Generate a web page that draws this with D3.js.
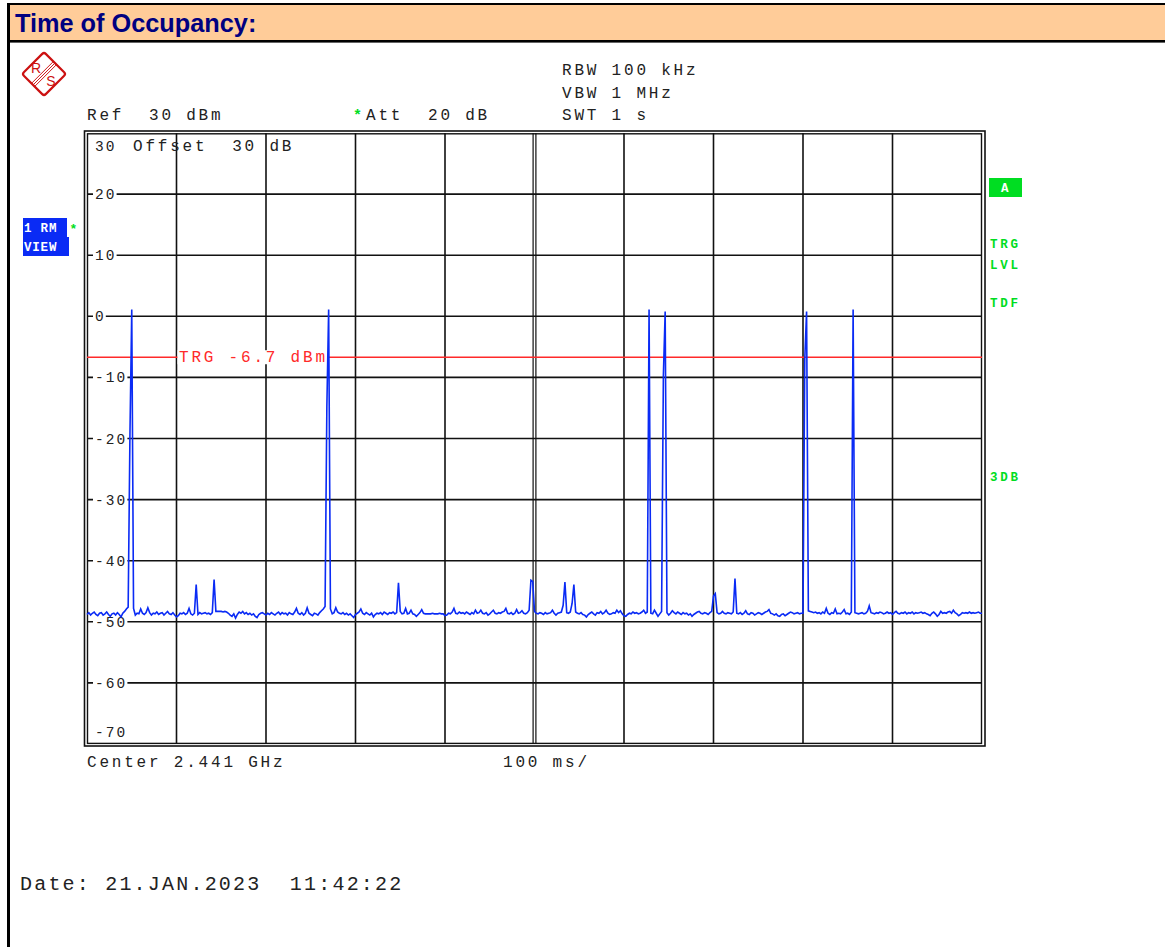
<!DOCTYPE html>
<html>
<head>
<meta charset="utf-8">
<script src="https://cdn.jsdelivr.net/npm/d3@7"></script>
<style>
  html, body { margin: 0; padding: 0; background: #fff; }
  svg { display: block; }
  text { white-space: pre; }
</style>
</head>
<body>
<svg id="chart" width="1165" height="947"></svg>
<script>
// ---------------- DATA ----------------
const title = "Time of Occupancy:";
const sweepTimeMs = 1000;           // SWT 1 s, 100 ms/div
const timeDivisions = [0, 100, 200, 300, 400, 500, 600, 700, 800, 900, 1000];
const levelTicks = [30, 20, 10, 0, -10, -20, -30, -40, -50, -60, -70];
const levelLabels = ["30", "20", "10", "0", "-10", "-20", "-30", "-40", "-50", "-60", "-70"];
const triggerLevel = -6.7;
const headerLines = ["RBW 100 kHz", "VBW 1 MHz", "SWT 1 s"];
const refText = "Ref  30 dBm";
const attText = "Att  20 dB";
const offsetText = "Offset  30 dB";
const footerLeft = "Center 2.441 GHz";
const footerMid = "100 ms/";
const dateText = "Date: 21.JAN.2023  11:42:22";
const traceInfo = ["1 RM", "VIEW"];
const rightLabels = ["TRG", "LVL", "TDF", "3DB"];

// trace: 501 sweep points (2 ms each), level in dBm
const trace = [
  -48.8,-48.5,-48.9,-48.6,-48.4,-48.8,-49.0,-48.6,-48.5,-48.9,-48.7,-48.4,-48.8,-49.1,-48.7,-48.6,-48.9,-48.5,-48.8,-49.2,
  -48.6,-48.3,-47.9,-47.6,-19.2,1.1,-47.8,-48.9,-48.6,-48.7,-47.9,-48.6,-48.8,-48.5,-47.7,-48.5,-48.9,-48.6,-48.7,-48.4,
  -48.8,-48.6,-48.5,-48.9,-48.6,-48.3,-48.7,-48.8,-48.5,-48.9,-49.2,-49.0,-48.6,-48.7,-48.5,-48.8,-48.6,-47.8,-48.7,-48.9,
  -48.6,-43.9,-48.8,-48.5,-48.7,-48.6,-48.5,-48.7,-48.6,-48.8,-48.5,-43.1,-48.3,-48.3,-48.3,-48.3,-48.4,-48.3,-48.4,-48.6,
  -48.9,-49.1,-48.7,-49.4,-48.8,-48.4,-48.6,-48.3,-48.7,-48.5,-48.8,-48.6,-48.9,-48.7,-49.1,-49.3,-48.8,-48.6,-48.5,-48.7,
  -48.9,-48.6,-48.8,-48.5,-48.7,-48.9,-48.6,-48.4,-48.8,-48.5,-48.7,-48.6,-48.9,-48.5,-48.7,-48.8,-48.4,-47.8,-48.6,-48.8,
  -48.5,-48.9,-48.6,-47.7,-48.6,-48.8,-49.0,-48.6,-48.7,-48.9,-48.5,-48.2,-47.9,-47.5,-14.8,1.1,-47.9,-48.7,-48.5,-47.7,
  -48.4,-48.6,-48.7,-48.5,-48.8,-48.6,-48.9,-48.7,-49.0,-49.3,-48.8,-48.6,-48.4,-47.9,-48.6,-48.8,-48.5,-48.7,-48.9,-48.6,
  -49.2,-48.8,-48.6,-48.7,-48.5,-48.8,-48.4,-48.6,-48.8,-48.5,-48.6,-48.4,-48.7,-48.5,-43.6,-48.3,-48.7,-48.6,-47.8,-48.7,
  -48.6,-48.1,-48.7,-48.8,-49.1,-48.8,-48.5,-48.0,-48.6,-48.7,-48.7,-48.7,-48.7,-48.6,-48.7,-48.7,-48.7,-48.6,-48.7,-48.7,
  -49.0,-48.9,-48.6,-48.7,-48.4,-47.8,-48.6,-48.7,-48.4,-48.6,-48.5,-48.7,-48.4,-48.6,-48.8,-48.5,-48.7,-48.1,-48.6,-48.5,
  -48.1,-48.6,-48.7,-48.5,-48.9,-48.7,-48.4,-48.1,-48.6,-48.7,-48.5,-48.6,-48.4,-48.3,-47.8,-48.6,-48.7,-48.5,-48.8,-48.6,
  -48.0,-48.6,-48.5,-48.2,-48.6,-48.7,-48.5,-48.1,-43.2,-43.4,-48.3,-48.6,-48.7,-48.5,-48.6,-48.8,-48.5,-48.7,-48.6,-48.5,
  -48.1,-48.6,-48.9,-48.6,-48.5,-48.4,-47.3,-43.5,-48.5,-48.6,-48.4,-47.0,-43.9,-48.4,-48.6,-48.7,-48.5,-48.8,-48.9,-49.2,
  -48.8,-48.6,-48.4,-48.7,-48.9,-48.5,-48.6,-48.3,-48.7,-48.5,-48.1,-48.6,-48.8,-48.7,-48.5,-48.6,-48.1,-48.5,-48.2,-48.7,
  -49.0,-49.1,-48.8,-48.6,-48.7,-48.4,-48.6,-48.5,-48.7,-48.6,-48.4,-48.1,-48.6,-48.4,1.1,-48.6,-48.7,-48.1,-48.6,-49.1,
  -48.7,-48.3,-9.7,0.8,-48.5,-48.9,-48.6,-48.2,-48.5,-48.7,-48.4,-48.6,-48.8,-48.5,-48.7,-48.6,-48.9,-48.7,-49.1,-48.8,
  -48.6,-48.4,-48.3,-48.6,-48.7,-48.5,-48.6,-48.8,-48.5,-48.3,-45.8,-45.4,-48.5,-48.7,-48.6,-48.3,-48.6,-48.7,-48.5,-48.6,
  -48.7,-48.4,-42.9,-48.6,-48.7,-48.5,-48.8,-48.6,-48.2,-48.7,-48.8,-48.5,-48.6,-48.9,-48.7,-48.5,-48.6,-48.8,-48.6,-48.4,
  -48.3,-48.0,-48.6,-48.7,-48.9,-48.7,-49.0,-49.1,-48.8,-48.7,-49.0,-48.8,-48.6,-48.4,-48.5,-48.7,-48.6,-48.5,-48.7,-48.6,
  -48.6,-7.0,0.8,-48.2,-48.3,-48.4,-48.5,-48.4,-48.6,-48.5,-48.7,-48.4,-48.6,-47.8,-48.6,-48.8,-48.5,-48.6,-47.9,-48.7,
  -48.6,-48.7,-48.4,-48.0,-48.7,-48.6,-48.8,-48.4,1.1,-48.5,-48.6,-48.7,-48.6,-48.5,-48.7,-48.6,-48.3,-47.4,-48.5,-48.6,
  -48.7,-48.5,-48.6,-48.4,-48.5,-48.7,-48.6,-48.4,-48.6,-48.5,-48.8,-48.5,-48.3,-48.6,-48.7,-48.5,-48.6,-48.4,-48.7,-48.5,
  -48.6,-48.4,-48.7,-48.5,-48.6,-48.5,-48.4,-48.6,-48.5,-48.7,-48.8,-49.0,-48.6,-48.4,-48.7,-49.1,-48.8,-48.3,-48.6,-48.5,
  -48.6,-48.4,-48.3,-48.6,-48.1,-48.5,-48.7,-49.0,-48.8,-48.5,-48.6,-48.5,-48.6,-48.4,-48.6,-48.5,-48.6,-48.5,-48.4,-48.6,
  -48.6
];

// ---------------- DRAWING ----------------
const svg = d3.select("#chart");
const MONO = "Liberation Mono, DejaVu Sans Mono, monospace";
const GREEN = "#00dd22";
const BLUE = "#0a2bf5";
const RED = "#cc1111";

svg.append("rect").attr("x", 0).attr("y", 0).attr("width", 1165).attr("height", 947).attr("fill", "#fff");

// header band
svg.append("rect").attr("x", 8).attr("y", 4).attr("width", 1157).attr("height", 37).attr("fill", "#ffcc99");
svg.append("rect").attr("x", 7).attr("y", 3).attr("width", 1158).attr("height", 2).attr("fill", "#000");
svg.append("rect").attr("x", 7).attr("y", 40).attr("width", 1158).attr("height", 2.6).attr("fill", "#000");
svg.append("rect").attr("x", 7).attr("y", 3).attr("width", 3).attr("height", 944).attr("fill", "#000");
svg.append("text")
  .attr("x", 15).attr("y", 32)
  .attr("font-family", "Liberation Sans, Arial, sans-serif")
  .attr("font-weight", "bold").attr("font-size", 25.3)
  .attr("fill", "#000080")
  .text(title);

// R&S logo
const logo = svg.append("g").attr("transform", "translate(44,74)");
const lg = logo.append("g").attr("transform", "rotate(45)");
lg.append("rect").attr("x", -15.5).attr("y", -15.5).attr("width", 31).attr("height", 31)
  .attr("rx", 2.5).attr("fill", "none").attr("stroke", RED).attr("stroke-width", 2.2);
[-2.2, 0, 2.2].forEach(d => {
  lg.append("line").attr("x1", d).attr("x2", d).attr("y1", -15.5).attr("y2", 15.5)
    .attr("stroke", RED).attr("stroke-width", 0.9);
});
logo.append("text").attr("x", -8).attr("y", -1).attr("text-anchor", "middle")
  .attr("font-family", "Liberation Sans, Arial, sans-serif").attr("font-size", 14).attr("fill", RED).text("R");
logo.append("text").attr("x", 7).attr("y", 12).attr("text-anchor", "middle")
  .attr("font-family", "Liberation Sans, Arial, sans-serif").attr("font-size", 14).attr("fill", RED).text("S");

// scales
const x = d3.scaleLinear().domain([0, sweepTimeMs]).range([87, 982]);
const y = d3.scaleLinear().domain([-70, 30]).range([744, 133]);

function monoText(g, tx, ty, str, size, spacing, fill, weight) {
  return g.append("text").attr("x", tx).attr("y", ty)
    .attr("xml:space", "preserve")
    .attr("font-family", MONO).attr("font-size", size)
    .attr("font-weight", weight || "normal")
    .style("letter-spacing", spacing + "px")
    .style("white-space", "pre")
    .attr("fill", fill || "#222").text(str);
}

// top annotations
headerLines.forEach((t, i) => monoText(svg, 562, 75 + i * 22.5, t, 16, 2.8, "#222"));
monoText(svg, 87, 120, refText, 16, 2.8, "#222");
monoText(svg, 353, 120, "*", 15, 0, GREEN, "bold");
monoText(svg, 366, 120, attText, 16, 2.8, "#222");

// grid
const grid = svg.append("g");
grid.append("rect").attr("x", 84.5).attr("y", 131).attr("width", 900.5).attr("height", 615)
  .attr("fill", "none").attr("stroke", "#111").attr("stroke-width", 1.6);
grid.append("rect").attr("x", 87.5).attr("y", 133.8).attr("width", 894).attr("height", 609.6)
  .attr("fill", "none").attr("stroke", "#111").attr("stroke-width", 1.4);

timeDivisions.slice(1, -1).forEach(t => {
  if (t === sweepTimeMs / 2) {
    [-1.4, 1.4].forEach(o => grid.append("line")
      .attr("x1", x(t) + o).attr("x2", x(t) + o).attr("y1", 133).attr("y2", 744)
      .attr("stroke", "#111").attr("stroke-width", 1.2));
  } else {
    grid.append("line").attr("x1", x(t)).attr("x2", x(t)).attr("y1", 133).attr("y2", 744)
      .attr("stroke", "#111").attr("stroke-width", 1.6);
  }
});
levelTicks.slice(1, -1).forEach(v => {
  grid.append("line").attr("x1", 87).attr("x2", 982).attr("y1", y(v)).attr("y2", y(v))
    .attr("stroke", "#111").attr("stroke-width", 1.6);
});

// level labels (white background breaks the grid line)
const LBL_STEP = 10.8;
levelTicks.forEach((v, i) => {
  const lab = levelLabels[i];
  const cy = Math.min(Math.max(y(v), 146), 732);
  if (v !== 30 && v !== -70) {
    grid.append("rect").attr("x", 93).attr("y", cy - 6).attr("width", lab.length * LBL_STEP + 2)
      .attr("height", 12).attr("fill", "#fff");
  }
  monoText(grid, 95, cy + 5, lab, 14.5, 2.1, "#222");
});
monoText(grid, 133, 151, offsetText, 16, 2.8, "#222");

// trigger line
const trg = svg.append("g");
trg.append("line").attr("x1", 87).attr("x2", 982).attr("y1", y(triggerLevel)).attr("y2", y(triggerLevel))
  .attr("stroke", "#ff2a2a").attr("stroke-width", 1.5);
const trgLabel = "TRG " + triggerLevel.toFixed(1) + " dBm";
trg.append("rect").attr("x", 177.5).attr("y", y(triggerLevel) - 7).attr("width", 151).attr("height", 14).attr("fill", "#fff");
monoText(trg, 179, y(triggerLevel) + 5, trgLabel, 16, 2.8, "#ff2a2a");

// trace
const line = d3.line()
  .x((d, i) => x(i * sweepTimeMs / (trace.length - 1)))
  .y(d => y(d));
svg.append("path").datum(trace).attr("d", line)
  .attr("fill", "none").attr("stroke", BLUE).attr("stroke-width", 1.6).attr("stroke-linejoin", "miter");

// left trace info box
svg.append("rect").attr("x", 23).attr("y", 218).attr("width", 44).attr("height", 19).attr("fill", BLUE);
svg.append("rect").attr("x", 23).attr("y", 237).attr("width", 46).attr("height", 19).attr("fill", BLUE);
traceInfo.forEach((t, i) => monoText(svg, 24, 232 + i * 19, t, 12.5, 0.8, "#fff", "bold"));
monoText(svg, 69.5, 233, "*", 13, 0, GREEN, "bold");

// right side indicators
svg.append("rect").attr("x", 989).attr("y", 178).attr("width", 33).attr("height", 19).attr("fill", GREEN);
monoText(svg, 1001, 192, "A", 12.5, 0, "#fff", "bold");
const rightLabelY = [247.5, 268.5, 306.5, 480.5];
rightLabels.forEach((t, i) => {
  monoText(svg, 990, rightLabelY[i], t, 12.5, 2.8, GREEN, "bold");
});

// bottom annotations
monoText(svg, 87, 767, footerLeft, 16, 2.8, "#222");
monoText(svg, 503, 767, footerMid, 16, 2.8, "#222");
monoText(svg, 20, 890, dateText, 20, 2.2, "#222");
</script>
</body>
</html>
